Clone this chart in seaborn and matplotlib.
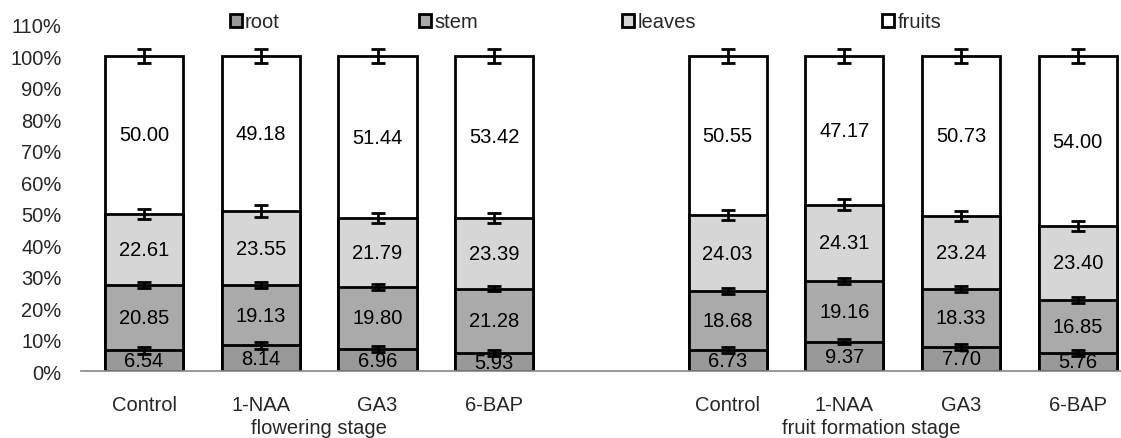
import numpy as np
import pandas as pd
import matplotlib
matplotlib.use('Agg')
import matplotlib.pyplot as plt
import seaborn as sns

# data
stages = ["flowering stage", "fruit formation stage"]
treatments = ["Control", "1-NAA", "GA3", "6-BAP"]
parts = ["root", "stem", "leaves", "fruits"]

root = [6.54, 8.14, 6.96, 5.93, 6.73, 9.37, 7.70, 5.76]
stem = [20.85, 19.13, 19.80, 21.28, 18.68, 19.16, 18.33, 16.85]
leaves = [22.61, 23.55, 21.79, 23.39, 24.03, 24.31, 23.24, 23.40]
fruits = [50.00, 49.18, 51.44, 53.42, 50.55, 47.17, 50.73, 54.00]

root_err = [1.0, 1.0, 0.9, 0.9, 0.9, 0.9, 0.9, 0.9]
stem_err = [0.9, 0.9, 0.9, 0.8, 0.9, 0.9, 0.9, 0.9]
leaves_err = [1.6, 1.8, 1.6, 1.6, 1.6, 1.8, 1.6, 1.7]
fruits_err = [2.3, 2.3, 2.3, 2.3, 2.3, 2.3, 2.3, 2.3]

colors = {"root": "#999999", "stem": "#aaaaaa", "leaves": "#d6d6d6", "fruits": "#ffffff"}

sns.set_theme(style="white")
plt.rcParams["font.family"] = ["Liberation Sans", "DejaVu Sans"]
FS = 14.5

# x positions: 4 bars per stage, one empty slot between the stages
pos = np.array([i + (i // 4) for i in range(8)], dtype=float)

vals = np.array([root, stem, leaves, fruits])
errs = np.array([root_err, stem_err, leaves_err, fruits_err])
shares = vals / vals.sum(axis=0) * 100
tops = np.cumsum(shares, axis=0)

rows = []
for k, p in enumerate(parts):
    for j in range(8):
        rows.append({"part": p, "pos": pos[j], "top": tops[k, j],
                     "mid": tops[k, j] - shares[k, j] / 2, "label": vals[k, j],
                     "err": errs[k, j]})
df = pd.DataFrame(rows)

fig = plt.figure(figsize=(11.21, 4.39), dpi=100)
ax = fig.add_axes([0.0723, 0.1526, 0.9277, 0.789])

# draw cumulative bars from the top part down so lower parts sit in front
for p in reversed(parts):
    sub = df[df["part"] == p]
    sns.barplot(data=sub, x="pos", y="top", native_scale=True, color=colors[p],
                saturation=1, edgecolor="black", linewidth=2, width=0.67,
                errorbar=None, ax=ax, zorder=2)

for p in parts:
    sub = df[df["part"] == p]
    ax.errorbar(sub["pos"], sub["top"], yerr=sub["err"], fmt="none",
                ecolor="black", elinewidth=2, capsize=5, capthick=2, zorder=4)
    for _, r in sub.iterrows():
        ax.text(r["pos"], r["mid"], f"{r['label']:.2f}", ha="center", va="center",
                fontsize=FS, color="black", zorder=5)

ax.set_xlim(-0.54, 8.37)
ax.set_ylim(0, 110)
ax.set_yticks(range(0, 111, 10))
ax.set_yticklabels([f"{v}%" for v in range(0, 111, 10)], fontsize=FS)
ax.set_xticks(pos)
ax.set_xticklabels(treatments * 2, fontsize=FS)
ax.tick_params(axis="x", length=0, pad=17)
ax.tick_params(axis="y", length=0, pad=14)
ax.set_xlabel("")
ax.set_ylabel("")
ax.grid(False)
for s in ["top", "right", "left"]:
    ax.spines[s].set_visible(False)
ax.spines["bottom"].set_color("#868686")
ax.spines["bottom"].set_linewidth(1.2)

# stage labels under the treatment names
ax.text(pos[:4].mean(), -17.8, stages[0], ha="center", va="center", fontsize=FS,
        clip_on=False)
ax.text(6.23, -17.8, stages[1], ha="center", va="center", fontsize=FS,
        clip_on=False)

# legend entries spread across the top of the plot
legend_x = [0.205, 0.374, 0.555, 0.787]
for p, lx in zip(parts, legend_x):
    h = plt.Rectangle((0, 0), 1, 1, facecolor=colors[p], edgecolor="black", linewidth=2)
    fig.legend([h], [p], loc="center left", bbox_to_anchor=(lx, 0.948),
               frameon=False, fontsize=FS, handlelength=0.6, handleheight=0.6,
               handletextpad=0.15, borderpad=0, borderaxespad=0)

fig.savefig("out.png", dpi=100)
